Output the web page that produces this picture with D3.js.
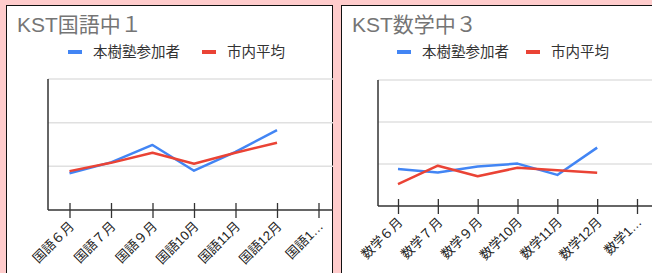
<!DOCTYPE html>
<html>
<head>
<meta charset="utf-8">
<script src="https://cdn.jsdelivr.net/npm/d3@7"></script>
<style>
  body { margin: 0; background: #ffcccc; }
  svg { display: block; }
</style>
</head>
<body>
<div id="vis"></div>
<script>
var seriesNames = ["本樹塾参加者", "市内平均"];
var seriesColors = ["#4285f4", "#ea4335"];

var kokugoTitle = "KST国語中１";
var kokugoMonths = ["国語６月", "国語７月", "国語９月", "国語10月", "国語11月", "国語12月", "国語1…"];
var kokugoJuku = [0.84, 1.09, 1.49, 0.90, 1.33, 1.83];
var kokugoCity = [0.89, 1.08, 1.31, 1.06, 1.31, 1.54];

var sugakuTitle = "KST数学中３";
var sugakuMonths = ["数学６月", "数学７月", "数学９月", "数学10月", "数学11月", "数学12月", "数学1…"];
var sugakuJuku = [0.88, 0.80, 0.94, 1.01, 0.74, 1.39];
var sugakuCity = [0.52, 0.96, 0.71, 0.91, 0.85, 0.79];

var gridValues = [0, 1, 2, 3];

var W = 652, H = 273;
var font = "Arial, 'Liberation Sans', 'Noto Sans CJK JP', sans-serif";

var svg = d3.select("#vis").append("svg")
    .attr("width", W)
    .attr("height", H);

svg.append("rect")
  .attr("width", W).attr("height", H).attr("fill", "#ffcccc");

function panel(id, box, plot, title, months, juku, city) {
  svg.append("clipPath").attr("id", id)
    .append("rect")
    .attr("x", box.x).attr("y", box.y)
    .attr("width", box.w).attr("height", box.h);

  var g = svg.append("g").attr("clip-path", "url(#" + id + ")");

  g.append("rect")
    .attr("x", box.x).attr("y", box.y)
    .attr("width", box.w).attr("height", box.h)
    .attr("fill", "#fff")
    .attr("stroke", "#111")
    .attr("stroke-width", 2);

  g.append("text")
    .attr("x", box.x + 11).attr("y", box.y + 27)
    .attr("font-family", font).attr("font-size", 21)
    .attr("fill", "#757575")
    .text(title);

  // legend
  var lx = [plot.legend[0], plot.legend[1]];
  seriesNames.forEach(function(name, i) {
    g.append("rect")
      .attr("x", lx[i]).attr("y", 50)
      .attr("width", 14).attr("height", 4)
      .attr("fill", seriesColors[i]);
    g.append("text")
      .attr("x", lx[i] + 25).attr("y", 52)
      .attr("dy", "0.35em")
      .attr("font-family", font).attr("font-size", 14.5)
      .attr("fill", "#333")
      .text(name);
  });

  var x = d3.scalePoint().domain(months).range([plot.x0, plot.x1]);
  var y = d3.scaleLinear().domain([0, 3]).range([plot.bottom, plot.top]);

  g.selectAll(".grid")
    .data(gridValues.slice(1)).enter()
    .append("line")
    .attr("x1", plot.left).attr("x2", box.x + box.w)
    .attr("y1", function(d) { return y(d); })
    .attr("y2", function(d) { return y(d); })
    .attr("stroke", "#e0e0e0")
    .attr("stroke-width", 1.5);

  var xAxis = g.append("g")
    .attr("transform", "translate(0," + plot.bottom + ")")
    .call(d3.axisBottom(x).tickSizeInner(8).tickSizeOuter(0).tickPadding(4));
  xAxis.select(".domain").remove();
  xAxis.selectAll(".tick line")
    .attr("y1", -7).attr("y2", 8)
    .attr("stroke", "#333").attr("stroke-width", 1.3);
  xAxis.selectAll(".tick text")
    .attr("font-family", font).attr("font-size", 13)
    .attr("fill", "#222")
    .attr("text-anchor", "end")
    .attr("y", 0)
    .attr("dy", null)
    .attr("transform", "translate(5,17) rotate(-45)");

  g.append("line")
    .attr("x1", plot.left).attr("x2", box.x + box.w)
    .attr("y1", plot.bottom).attr("y2", plot.bottom)
    .attr("stroke", "#333").attr("stroke-width", 1.5);
  g.append("line")
    .attr("x1", plot.left).attr("x2", plot.left)
    .attr("y1", plot.top).attr("y2", plot.bottom)
    .attr("stroke", "#333").attr("stroke-width", 1.5);

  var line = d3.line()
    .x(function(d, i) { return x(months[i]); })
    .y(function(d) { return y(d); });

  [juku, city].forEach(function(vals, i) {
    g.append("path")
      .datum(vals)
      .attr("d", line)
      .attr("fill", "none")
      .attr("stroke", seriesColors[i])
      .attr("stroke-width", 2.5)
      .attr("stroke-linejoin", "round");
  });
}

panel("clipA", { x: 6, y: 5, w: 327, h: 290 },
  { left: 48, top: 79, bottom: 210, x0: 69.5, x1: 318.5, legend: [68, 202] },
  kokugoTitle, kokugoMonths, kokugoJuku, kokugoCity);

panel("clipB", { x: 341, y: 5, w: 330, h: 290 },
  { left: 378, top: 80, bottom: 206, x0: 398, x1: 637, legend: [397, 526] },
  sugakuTitle, sugakuMonths, sugakuJuku, sugakuCity);
</script>
</body>
</html>
